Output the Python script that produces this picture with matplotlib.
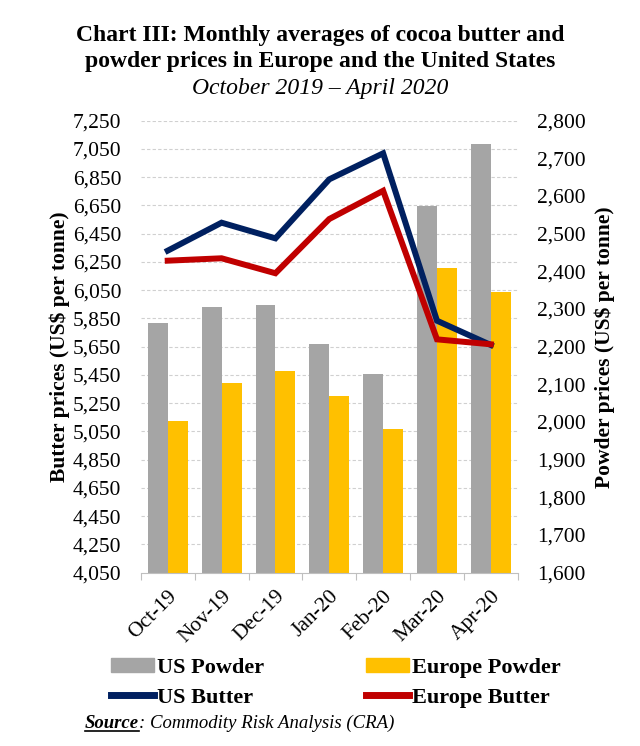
import matplotlib
matplotlib.use("Agg")
import matplotlib.pyplot as plt
import numpy as np
from matplotlib.patches import Patch
from matplotlib.lines import Line2D
from matplotlib.ticker import FuncFormatter, FixedLocator

plt.rcParams['font.family'] = ['Liberation Serif', 'DejaVu Serif']

months = ["Oct-19", "Nov-19", "Dec-19", "Jan-20", "Feb-20", "Mar-20", "Apr-20"]
us_powder = [2262, 2306, 2311, 2207, 2127, 2574, 2739]
europe_powder = [2003, 2103, 2135, 2069, 1981, 2410, 2345]
us_butter = [6330, 6528, 6417, 6835, 7019, 5834, 5662]
europe_butter = [6259, 6276, 6170, 6554, 6754, 5702, 5667]

left_ticks = list(range(4050, 7251, 200))
right_ticks = list(range(1600, 2801, 100))

c_gray = "#A5A5A5"
c_gold = "#FFC000"
c_navy = "#002060"
c_red = "#C00000"

fig = plt.figure(figsize=(6.4, 7.46), dpi=100)
ax = fig.add_axes([0.22, 0.2323, 0.589, 0.6059])
ax2 = ax.twinx()

x = np.arange(len(months))
bw = 0.37
ax2.bar(x - bw / 2, us_powder, bw, color=c_gray, zorder=2)
ax2.bar(x + bw / 2, europe_powder, bw, color=c_gold, zorder=2)
ax2.set_ylim(1600, 2800)
ax2.yaxis.set_major_locator(FixedLocator(right_ticks))

ax.set_ylim(4050, 7250)
ax.yaxis.set_major_locator(FixedLocator(left_ticks))
ax.set_xlim(-0.5, len(months) - 0.5)

# put line axis on top
ax.set_zorder(ax2.get_zorder() + 1)
ax.patch.set_visible(False)
ax.plot(x, us_butter, color=c_navy, lw=4.3, solid_joinstyle='miter', zorder=3)
ax.plot(x, europe_butter, color=c_red, lw=4.3, solid_joinstyle='miter', zorder=3)

# gridlines (on the bar axis so they sit behind bars)
for t in left_ticks[1:]:
    frac = (t - 4050) / 3200
    ax2.axhline(1600 + frac * 1200, color="#D0D0D0", lw=0.8, ls=(0, (3, 2)), zorder=0)

fmt = FuncFormatter(lambda v, p: f"{int(v):,}")
ax.yaxis.set_major_formatter(fmt)
ax2.yaxis.set_major_formatter(fmt)

for a in (ax, ax2):
    for s in ("top", "left", "right"):
        a.spines[s].set_visible(False)
    a.spines["bottom"].set_color("#BFBFBF")
ax2.spines["bottom"].set_visible(False)

ax.tick_params(axis='y', length=0, pad=14, labelsize=15.5)
ax2.tick_params(axis='y', length=0, pad=14, labelsize=15.5)

ax.set_xticks(x)
ax.set_xticklabels(months, rotation=45, ha='right', rotation_mode='anchor', fontsize=15.5)
ax.tick_params(axis='x', which='major', length=0, pad=10)
ax.set_xticks(np.arange(-0.5, len(months)), minor=True)
ax.tick_params(axis='x', which='minor', length=5, color="#BFBFBF", width=0.8)

ax.set_ylabel("Butter prices (US$ per tonne)", fontsize=15.5, fontweight='bold', labelpad=2)
ax2.set_ylabel("Powder prices (US$ per tonne)", fontsize=15.5, fontweight='bold', labelpad=6)

fig.text(0.5, 0.953, "Chart III: Monthly averages of cocoa butter and", ha='center', va='center',
         fontsize=17, fontweight='bold')
fig.text(0.5, 0.917, "powder prices in Europe and the United States", ha='center', va='center',
         fontsize=17, fontweight='bold')
fig.text(0.5, 0.882, "October 2019 \u2013 April 2020", ha='center', va='center',
         fontsize=17, fontstyle='italic')

handles = [Patch(color=c_gray), Line2D([], [], color=c_navy, lw=5),
           Patch(color=c_gold), Line2D([], [], color=c_red, lw=5)]
labels = ["US Powder", "US Butter", "Europe Powder", "Europe Butter"]
fig.legend(handles, labels, ncol=2, loc='center', bbox_to_anchor=(0.525, 0.085),
           frameon=False, prop={'weight': 'bold', 'size': 16}, handlelength=1.9,
           handleheight=0.6, handletextpad=0.15, columnspacing=4.6, labelspacing=0.45)

t1 = fig.text(0.133, 0.024, "Source", fontsize=13.5, fontweight='bold', fontstyle='italic',
              ha='left', va='baseline')
fig.canvas.draw()
r = fig.canvas.get_renderer()
bb = t1.get_window_extent(r)
W, H = fig.bbox.width, fig.bbox.height
fig.text(bb.x1 / W, 0.024, ": Commodity Risk Analysis (CRA)", fontsize=13.5, fontstyle='italic',
         ha='left', va='baseline')
fig.add_artist(Line2D([bb.x0 / W, bb.x1 / W], [0.024 - 3 / H, 0.024 - 3 / H],
                      color='black', lw=1.2, transform=fig.transFigure))

fig.savefig("out.png", dpi=100)
